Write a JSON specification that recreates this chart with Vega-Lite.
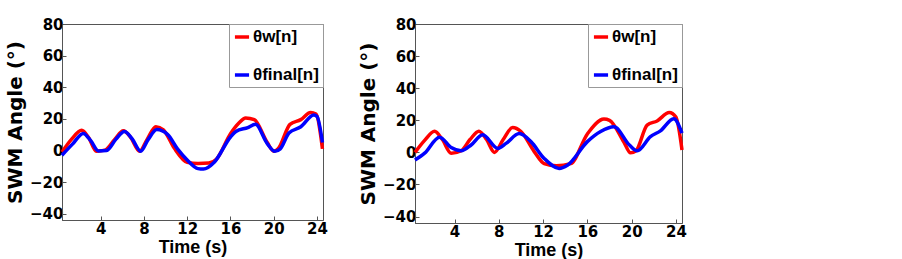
{
  "$schema": "https://vega.github.io/schema/vega-lite/v6.json",
  "background": "white",
  "padding": {"left": 5, "top": 16, "right": 5, "bottom": 5},
  "spacing": 28,
  "datasets": {
    "left": [
      {"series": "θw[n]", "t": 0.43, "v": -1},
      {"series": "θw[n]", "t": 1.3, "v": 7},
      {"series": "θw[n]", "t": 2.25, "v": 12.8},
      {"series": "θw[n]", "t": 2.9, "v": 8},
      {"series": "θw[n]", "t": 3.6, "v": -0.5},
      {"series": "θw[n]", "t": 4.4, "v": 0.2},
      {"series": "θw[n]", "t": 5.3, "v": 7},
      {"series": "θw[n]", "t": 6.1, "v": 12.5},
      {"series": "θw[n]", "t": 6.8, "v": 8},
      {"series": "θw[n]", "t": 7.6, "v": -0.5},
      {"series": "θw[n]", "t": 8.3, "v": 7},
      {"series": "θw[n]", "t": 9.1, "v": 15},
      {"series": "θw[n]", "t": 9.8, "v": 13},
      {"series": "θw[n]", "t": 10.8, "v": 1.5},
      {"series": "θw[n]", "t": 12, "v": -7.5},
      {"series": "θw[n]", "t": 13, "v": -8.3},
      {"series": "θw[n]", "t": 14, "v": -8},
      {"series": "θw[n]", "t": 14.7, "v": -5.5},
      {"series": "θw[n]", "t": 16, "v": 10.6},
      {"series": "θw[n]", "t": 16.8, "v": 17.5},
      {"series": "θw[n]", "t": 17.4, "v": 20.6},
      {"series": "θw[n]", "t": 18.2, "v": 19.5},
      {"series": "θw[n]", "t": 19.4, "v": 5},
      {"series": "θw[n]", "t": 20.0, "v": -0.5},
      {"series": "θw[n]", "t": 20.4, "v": 1},
      {"series": "θw[n]", "t": 21.5, "v": 16.5},
      {"series": "θw[n]", "t": 22.5, "v": 19.5},
      {"series": "θw[n]", "t": 23.4, "v": 24},
      {"series": "θw[n]", "t": 23.9, "v": 23},
      {"series": "θw[n]", "t": 24.5, "v": 1},
      {"series": "θfinal[n]", "t": 0.43, "v": -3},
      {"series": "θfinal[n]", "t": 1.4, "v": 4},
      {"series": "θfinal[n]", "t": 2.4, "v": 10.8},
      {"series": "θfinal[n]", "t": 3.1, "v": 6},
      {"series": "θfinal[n]", "t": 3.8, "v": -0.3},
      {"series": "θfinal[n]", "t": 4.55, "v": 0},
      {"series": "θfinal[n]", "t": 5.4, "v": 7},
      {"series": "θfinal[n]", "t": 6.2, "v": 12},
      {"series": "θfinal[n]", "t": 6.9, "v": 7.5},
      {"series": "θfinal[n]", "t": 7.7, "v": -0.5},
      {"series": "θfinal[n]", "t": 8.4, "v": 7},
      {"series": "θfinal[n]", "t": 9.2, "v": 13.2},
      {"series": "θfinal[n]", "t": 10.2, "v": 10},
      {"series": "θfinal[n]", "t": 11.1, "v": 1},
      {"series": "θfinal[n]", "t": 12, "v": -6},
      {"series": "θfinal[n]", "t": 13, "v": -11.5},
      {"series": "θfinal[n]", "t": 13.5, "v": -11.8},
      {"series": "θfinal[n]", "t": 14.5, "v": -7.5},
      {"series": "θfinal[n]", "t": 16, "v": 8.5},
      {"series": "θfinal[n]", "t": 16.5, "v": 12},
      {"series": "θfinal[n]", "t": 17.6, "v": 14.5},
      {"series": "θfinal[n]", "t": 18.3, "v": 16.5},
      {"series": "θfinal[n]", "t": 19.4, "v": 4.3},
      {"series": "θfinal[n]", "t": 20.1, "v": -0.5},
      {"series": "θfinal[n]", "t": 20.6, "v": 1},
      {"series": "θfinal[n]", "t": 21.4, "v": 11},
      {"series": "θfinal[n]", "t": 22.5, "v": 15},
      {"series": "θfinal[n]", "t": 23.7, "v": 22.5},
      {"series": "θfinal[n]", "t": 24.0, "v": 21.5},
      {"series": "θfinal[n]", "t": 24.5, "v": 5}
    ],
    "right": [
      {"series": "θw[n]", "t": 0.43, "v": 0},
      {"series": "θw[n]", "t": 1.3, "v": 7.5},
      {"series": "θw[n]", "t": 2.2, "v": 13.2},
      {"series": "θw[n]", "t": 2.9, "v": 8},
      {"series": "θw[n]", "t": 3.7, "v": -0.6},
      {"series": "θw[n]", "t": 4.6, "v": 1},
      {"series": "θw[n]", "t": 5.4, "v": 8},
      {"series": "θw[n]", "t": 6.2, "v": 13.2},
      {"series": "θw[n]", "t": 6.9, "v": 8},
      {"series": "θw[n]", "t": 7.6, "v": 0},
      {"series": "θw[n]", "t": 8.4, "v": 8},
      {"series": "θw[n]", "t": 9.25, "v": 15.5},
      {"series": "θw[n]", "t": 10, "v": 13},
      {"series": "θw[n]", "t": 11.2, "v": 0.5},
      {"series": "θw[n]", "t": 12.1, "v": -7},
      {"series": "θw[n]", "t": 13.2, "v": -8.3},
      {"series": "θw[n]", "t": 14.5, "v": -7},
      {"series": "θw[n]", "t": 16, "v": 11.5},
      {"series": "θw[n]", "t": 17.5, "v": 20.8},
      {"series": "θw[n]", "t": 18, "v": 20},
      {"series": "θw[n]", "t": 19.3, "v": 6.5},
      {"series": "θw[n]", "t": 19.9, "v": -0.3},
      {"series": "θw[n]", "t": 20.4, "v": 1},
      {"series": "θw[n]", "t": 21.4, "v": 17},
      {"series": "θw[n]", "t": 22.3, "v": 19.6},
      {"series": "θw[n]", "t": 23.4, "v": 24.8},
      {"series": "θw[n]", "t": 24, "v": 22},
      {"series": "θw[n]", "t": 24.55, "v": 1.5},
      {"series": "θfinal[n]", "t": 0.43, "v": -4.8},
      {"series": "θfinal[n]", "t": 1.3, "v": -0.5},
      {"series": "θfinal[n]", "t": 2.65, "v": 9.5},
      {"series": "θfinal[n]", "t": 3.7, "v": 3},
      {"series": "θfinal[n]", "t": 4.6, "v": 1},
      {"series": "θfinal[n]", "t": 5.5, "v": 4.6},
      {"series": "θfinal[n]", "t": 6.55, "v": 11},
      {"series": "θfinal[n]", "t": 7.9, "v": 2.5},
      {"series": "θfinal[n]", "t": 8.65, "v": 5.6},
      {"series": "θfinal[n]", "t": 9.85, "v": 11.7},
      {"series": "θfinal[n]", "t": 10.9, "v": 6.7},
      {"series": "θfinal[n]", "t": 12.1, "v": -3.8},
      {"series": "θfinal[n]", "t": 13.45, "v": -10},
      {"series": "θfinal[n]", "t": 14.2, "v": -8},
      {"series": "θfinal[n]", "t": 16, "v": 6.7},
      {"series": "θfinal[n]", "t": 17.2, "v": 13},
      {"series": "θfinal[n]", "t": 18.4, "v": 16},
      {"series": "θfinal[n]", "t": 19.8, "v": 4.6},
      {"series": "θfinal[n]", "t": 20.5, "v": 1},
      {"series": "θfinal[n]", "t": 21.7, "v": 9.8},
      {"series": "θfinal[n]", "t": 22.6, "v": 13.4},
      {"series": "θfinal[n]", "t": 23.8, "v": 21},
      {"series": "θfinal[n]", "t": 24.55, "v": 12}
    ]
  },
  "config": {
    "view": {"stroke": "#555", "strokeWidth": 1},
    "axis": {
      "grid": false,
      "domainColor": "#555",
      "tickColor": "#555",
      "tickSize": -4,
      "labelFont": "DejaVu Sans",
      "labelFontWeight": "bold",
      "labelFontSize": 15,
      "labelColor": "black",
      "titleFont": "Liberation Sans",
      "titleFontWeight": "bold",
      "titleColor": "black"
    },
    "legend": {
      "orient": "top-right",
      "offset": 0,
      "title": null,
      "symbolType": "stroke",
      "symbolSize": 200,
      "symbolStrokeWidth": 3.5,
      "labelFont": "Liberation Sans",
      "labelFontWeight": "bold",
      "labelFontSize": 17,
      "labelColor": "black",
      "labelOffset": 2,
      "padding": 4,
      "rowPadding": 21,
      "strokeColor": "#999",
      "fillColor": "white"
    }
  },
  "resolve": {"legend": {"color": "independent"}},
  "hconcat": [
    {
      "width": 261,
      "height": 196,
      "data": {"name": "left"},
      "mark": {"type": "line", "strokeWidth": 3.5, "interpolate": "monotone"},
      "encoding": {
        "x": {"field": "t", "type": "quantitative", "scale": {"domain": [0.43, 24.55], "nice": false, "zero": false},
              "axis": {"values": [4, 8, 12, 16, 20, 24], "title": "Time (s)", "titleFontSize": 18, "titlePadding": 2, "labelPadding": 5}},
        "y": {"field": "v", "type": "quantitative", "scale": {"domain": [-44, 80], "nice": false},
              "axis": {"values": [-40, -20, 0, 20, 40, 60, 80], "title": "SWM Angle (°)", "titleFont": "DejaVu Sans", "titleFontSize": 20, "titlePadding": 4, "labelPadding": 3}},
        "color": {"field": "series", "type": "nominal", "sort": ["θw[n]", "θfinal[n]"],
                  "scale": {"domain": ["θw[n]", "θfinal[n]"], "range": ["#ff0000", "#0000ff"]}}
      }
    },
    {
      "width": 267,
      "height": 199,
      "data": {"name": "right"},
      "mark": {"type": "line", "strokeWidth": 3.5, "interpolate": "monotone"},
      "encoding": {
        "x": {"field": "t", "type": "quantitative", "scale": {"domain": [0.43, 24.55], "nice": false, "zero": false},
              "axis": {"values": [4, 8, 12, 16, 20, 24], "title": "Time (s)", "titleFontSize": 18, "titlePadding": 2, "labelPadding": 5}},
        "y": {"field": "v", "type": "quantitative", "scale": {"domain": [-44, 80], "nice": false},
              "axis": {"values": [-40, -20, 0, 20, 40, 60, 80], "title": "SWM Angle (°)", "titleFont": "DejaVu Sans", "titleFontSize": 20, "titlePadding": 4, "labelPadding": 3}},
        "color": {"field": "series", "type": "nominal", "sort": ["θw[n]", "θfinal[n]"],
                  "scale": {"domain": ["θw[n]", "θfinal[n]"], "range": ["#ff0000", "#0000ff"]}}
      }
    }
  ]
}
